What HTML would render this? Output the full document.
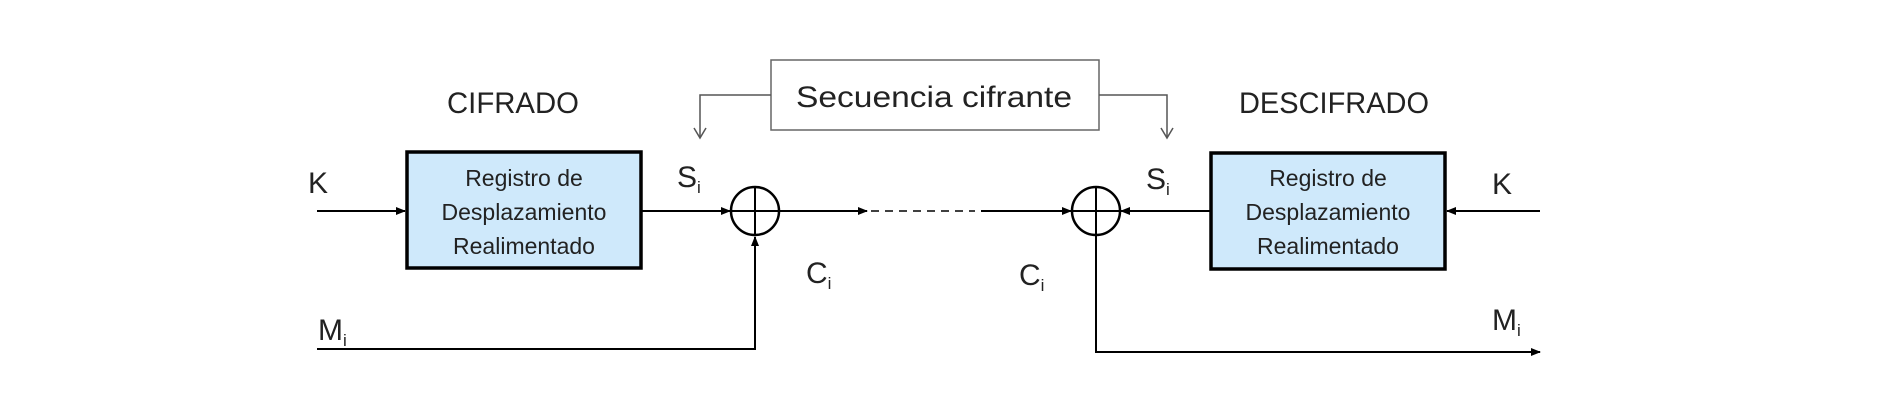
<!DOCTYPE html>
<html><head><meta charset="utf-8"><style>html,body{margin:0;padding:0;background:#fff}svg{display:block}</style></head>
<body>
<svg width="1898" height="401" viewBox="0 0 1898 401" xmlns="http://www.w3.org/2000/svg" font-family="'Liberation Sans', sans-serif" fill="#222">
<defs>
<marker id="a" markerWidth="10" markerHeight="10" refX="9" refY="5" orient="auto" markerUnits="userSpaceOnUse"><path d="M0,1 L10,5 L0,9 Z" fill="#000"/></marker>
<marker id="o" markerWidth="16" markerHeight="16" refX="14" refY="8" orient="auto" markerUnits="userSpaceOnUse"><path d="M4,2 L14,8 L4,14" fill="none" stroke="#555" stroke-width="1.5"/></marker>
</defs>
<g stroke="#000" stroke-width="2" fill="none">
<line x1="317" y1="211" x2="405" y2="211" marker-end="url(#a)"/>
<rect x="407" y="152" width="234" height="116" fill="#cfe9fb" stroke-width="3.5"/>
<line x1="641" y1="211" x2="730" y2="211" marker-end="url(#a)"/>
<circle cx="755" cy="211" r="24" stroke-width="2.5"/>
<line x1="731" y1="211" x2="779" y2="211"/>
<line x1="755" y1="187" x2="755" y2="235"/>
<polyline points="317,349 755,349 755,237" marker-end="url(#a)"/>
<line x1="779" y1="211" x2="867" y2="211" marker-end="url(#a)"/>
<line x1="871" y1="211" x2="975" y2="211" stroke-dasharray="8,6" stroke-width="1.5"/>
<line x1="981" y1="211" x2="1071" y2="211" marker-end="url(#a)"/>
<circle cx="1096" cy="211" r="24" stroke-width="2.5"/>
<line x1="1072" y1="211" x2="1120" y2="211"/>
<line x1="1096" y1="187" x2="1096" y2="235"/>
<line x1="1211" y1="211" x2="1121" y2="211" marker-end="url(#a)"/>
<rect x="1211" y="153" width="234" height="116" fill="#cfe9fb" stroke-width="3.5"/>
<line x1="1540" y1="211" x2="1447" y2="211" marker-end="url(#a)"/>
<polyline points="1096,235 1096,352 1540,352" marker-end="url(#a)"/>
<rect x="771" y="60" width="328" height="70" stroke="#666" stroke-width="1.5" fill="#fff"/>
<polyline points="771,95 700,95 700,138" stroke="#555" stroke-width="1.5" marker-end="url(#o)"/>
<polyline points="1099,95 1167,95 1167,138" stroke="#555" stroke-width="1.5" marker-end="url(#o)"/>
</g>
<g font-size="30">
<text x="447" y="113" textLength="132" lengthAdjust="spacingAndGlyphs">CIFRADO</text>
<text x="1239" y="113" textLength="190" lengthAdjust="spacingAndGlyphs">DESCIFRADO</text>
<text x="796" y="107" textLength="276" lengthAdjust="spacingAndGlyphs">Secuencia cifrante</text>
<text x="308" y="193">K</text>
<text x="1492" y="194">K</text>
<text x="677" y="187">S<tspan font-size="17" dy="6">i</tspan></text>
<text x="1146" y="189">S<tspan font-size="17" dy="6">i</tspan></text>
<text x="806" y="283">C<tspan font-size="17" dy="6">i</tspan></text>
<text x="1019" y="285">C<tspan font-size="17" dy="6">i</tspan></text>
<text x="318" y="340">M<tspan font-size="17" dy="6">i</tspan></text>
<text x="1492" y="330">M<tspan font-size="17" dy="6">i</tspan></text>
</g>
<g font-size="23" text-anchor="middle">
<text x="524" y="186">Registro de</text>
<text x="524" y="220">Desplazamiento</text>
<text x="524" y="254">Realimentado</text>
<text x="1328" y="186">Registro de</text>
<text x="1328" y="220">Desplazamiento</text>
<text x="1328" y="254">Realimentado</text>
</g>
</svg>
</body></html>
